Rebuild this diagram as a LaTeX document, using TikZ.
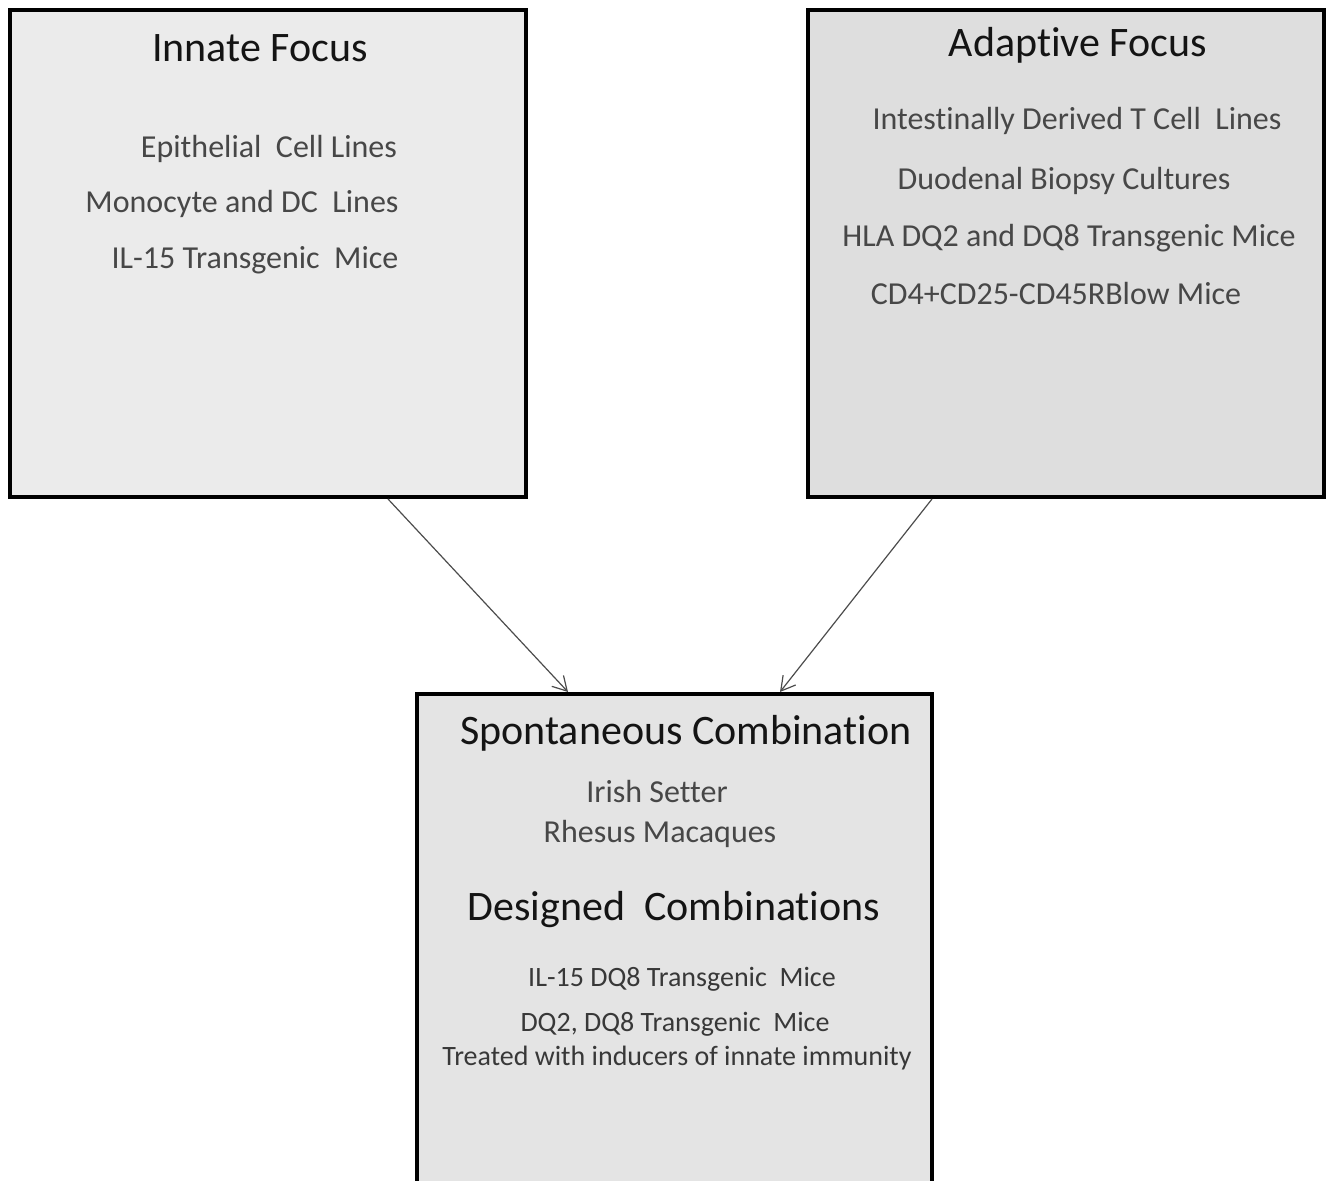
\documentclass[tikz,border=0pt]{standalone}
\usepackage{fontspec}
\setmainfont[Ligatures={NoCommon}]{Carlito}
\usepackage{xcolor}
\usepackage{tikz}
\usetikzlibrary{arrows.meta}

\definecolor{innatefill}{HTML}{EBEBEB}
\definecolor{adaptfill}{HTML}{DEDEDE}
\definecolor{combofill}{HTML}{E4E4E4}

\begin{document}
\begin{tikzpicture}[
   x=0.5pt, y=-0.5pt,
   box/.style={draw=black, line width=2pt, inner sep=0pt,
      minimum width=258pt, minimum height=243.5pt},
   head/.style={anchor=base, text=black!92, font=\fontsize{21}{25}\selectfont},
   item/.style={anchor=base, text=black!72, font=\fontsize{16}{19}\selectfont},
   small/.style={anchor=base, text=black!78, font=\fontsize{14}{17}\selectfont},
   link/.style={-{Straight Barb[length=7pt,width=8pt]}, line width=0.6pt, draw=black!70},
   ]
   \useasboundingbox (0,0) rectangle (1333,1181);
   \clip (0,0) rectangle (1333,1181);

   % the three boxes
   \node[box, fill=innatefill] (innate) at (268,253.5) {};
   \node[box, fill=adaptfill] (adaptive) at (1066,253.5) {};
   \node[box, fill=combofill, minimum width=257.5pt, minimum height=260pt] (combo) at (674.5,954) {};

   % innate side
   \node[head] (inn-head) at (260,62) {Innate Focus};
   \foreach \n/\x/\y/\txt in {1/269/158/{Epithelial~ Cell Lines},
      2/242/213/{Monocyte and DC~ Lines},
      3/255/269/{IL-15 Transgenic~ Mice}}
   \node[item] (inn-\n) at (\x,\y) {\txt};

   % adaptive side
   \node[head] (ada-head) at (1078,57) {Adaptive Focus};
   \foreach \n/\x/\y/\txt in {1/1077/130/{Intestinally Derived T Cell~ Lines},
      2/1064/190/{Duodenal Biopsy Cultures},
      3/1069/247/{HLA DQ2 and DQ8 Transgenic Mice},
      4/1056/305/{CD4+CD25-CD45RBlow Mice}}
   \node[item] (ada-\n) at (\x,\y) {\txt};

   % combinations
   \node[head] (spo-head) at (686,744) {Spontaneous Combination};
   \node[item] (spo-1) at (657,802) {Irish Setter};
   \node[item] (spo-2) at (660,842) {Rhesus Macaques};
   \node[head] (des-head) at (674,920) {Designed~ Combinations};
   \foreach \n/\x/\y/\txt in {1/682/986/{IL-15 DQ8 Transgenic~ Mice},
      2/675/1031/{DQ2, DQ8 Transgenic~ Mice},
      3/677/1065/{Treated with inducers of innate immunity}}
   \node[small] (des-\n) at (\x,\y) {\txt};

   % arrows into the combination box
   \draw[link] ([xshift=60pt]innate.south) -- ([xshift=-53.25pt]combo.north);
   \draw[link] ([xshift=-67pt]adaptive.south) -- ([xshift=52.75pt]combo.north);
\end{tikzpicture}
\end{document}
